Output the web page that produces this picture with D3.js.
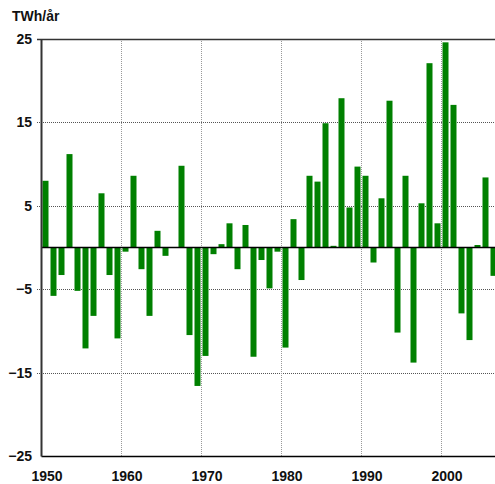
<!DOCTYPE html>
<html>
<head>
<meta charset="utf-8">
<script src="https://cdn.jsdelivr.net/npm/d3@7"></script>
<style>
  body { margin: 0; background: #fff; }
  svg { display: block; font-family: Arial, "Liberation Sans", sans-serif; }
</style>
</head>
<body>
<svg id="chart" width="495" height="484"></svg>
<script>
// Data: yearly deviation, TWh/år
const years = d3.range(1950, 2007);
const values = [
  8.0, -5.8, -3.3, 11.2, -5.2, -12.1, -8.2, 6.5, -3.3, -10.9,
  -0.5, 8.6, -2.6, -8.2, 2.0, -1.0, 0.0, 9.8, -10.5, -16.6,
  -13.0, -0.8, 0.4, 2.9, -2.6, 2.7, -13.1, -1.5, -4.9, -0.5,
  -12.0, 3.4, -3.9, 8.6, 7.9, 14.9, 0.2, 17.9, 4.8, 9.7,
  8.6, -1.8, 5.9, 17.6, -10.2, 8.6, -13.8, 5.3, 22.1, 2.9,
  24.6, 17.1, -7.9, -11.1, 0.3, 8.4, -3.4,
];
const xTicks = [1950, 1960, 1970, 1980, 1990, 2000];
const yTicks = [25, 15, 5, -5, -15, -25];
const unitLabel = 'TWh/år';

// Plot box (pixels)
const box = {
  left: 41,
  right: 497,
  top: 39,
  bottom: 456,
};

const svg = d3.select('#chart');

const x = d3.scaleLinear().domain([1950, 2007]).range([box.left, box.right]);
const y = d3.scaleLinear().domain([-25, 25]).range([box.bottom, box.top]);

// horizontal gridlines
svg.append('g')
  .selectAll('line')
  .data(yTicks.filter((d) => d !== 25 && d !== -25))
  .join('line')
  .attr('x1', box.left - 4)
  .attr('x2', box.right)
  .attr('y1', (d) => Math.round(y(d)) + 0.5)
  .attr('y2', (d) => Math.round(y(d)) + 0.5)
  .attr('stroke', '#555')
  .attr('stroke-dasharray', '1,1');

// vertical gridlines
svg.append('g')
  .selectAll('line')
  .data(xTicks.filter((d) => d !== 1950))
  .join('line')
  .attr('x1', (d) => Math.round(x(d)) + 0.5)
  .attr('x2', (d) => Math.round(x(d)) + 0.5)
  .attr('y1', box.top)
  .attr('y2', box.bottom)
  .attr('stroke', '#999')
  .attr('stroke-dasharray', '1,1');

// bars
svg.append('g')
  .selectAll('rect')
  .data(years.map((yr, i) => ({ yr, v: values[i] })))
  .join('rect')
  .attr('x', (d) => x(d.yr) + 1.5)
  .attr('width', 6)
  .attr('y', (d) => y(Math.max(0, d.v)))
  .attr('height', (d) => Math.abs(y(d.v) - y(0)))
  .attr('fill', '#008000');

// zero line
svg.append('line')
  .attr('x1', box.left)
  .attr('x2', box.right)
  .attr('y1', y(0))
  .attr('y2', y(0))
  .attr('stroke', '#000')
  .attr('stroke-width', 1.5);

// top frame and tick stub at 25
svg.append('line')
  .attr('x1', box.left - 4)
  .attr('x2', box.right)
  .attr('y1', box.top + 0.5)
  .attr('y2', box.top + 0.5)
  .attr('stroke', '#333')
  .attr('stroke-width', 1.5);

// x axis
const xAxis = svg.append('g')
  .attr('transform', `translate(0,${box.bottom})`)
  .call(d3.axisBottom(x).tickValues(xTicks).tickSize(0).tickPadding(15)
    .tickFormat(d3.format('d')));
xAxis.select('.domain').attr('stroke', '#000').attr('stroke-width', 1.5);
xAxis.selectAll('text')
  .attr('dx', 5.5)
  .attr('fill', '#111')
  .style('font-size', '14px')
  .style('font-weight', 'bold');

// y axis
const yAxis = svg.append('g')
  .attr('transform', `translate(${box.left},0)`)
  .call(d3.axisLeft(y).tickValues(yTicks).tickSize(0).tickPadding(9));
yAxis.select('.domain').attr('stroke', '#333').attr('stroke-width', 2);
yAxis.selectAll('text')
  .attr('fill', '#111')
  .style('font-size', '14px')
  .style('font-weight', 'bold');

// unit label
svg.append('text')
  .attr('x', 12)
  .attr('y', 21)
  .attr('fill', '#111')
  .style('font-size', '14px')
  .style('font-weight', 'bold')
  .text(unitLabel);
</script>
</body>
</html>
